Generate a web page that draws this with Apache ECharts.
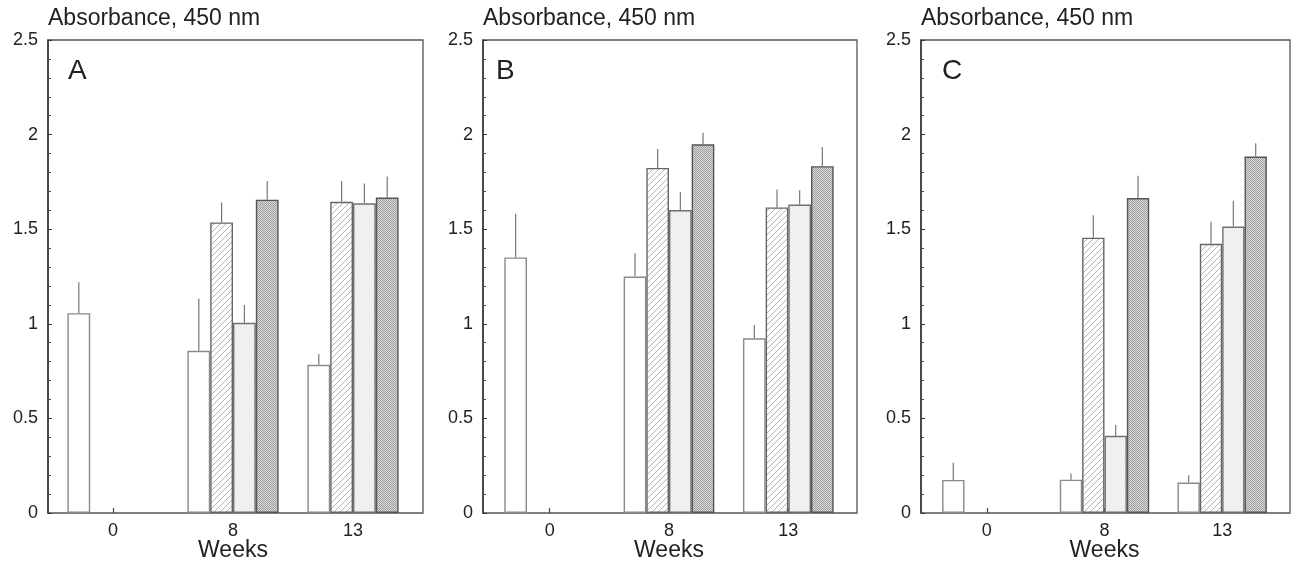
<!DOCTYPE html>
<html>
<head>
<meta charset="utf-8">
<script src="https://cdn.jsdelivr.net/npm/echarts@6/dist/echarts.min.js"></script>
<style>html,body{margin:0;padding:0;background:#fff}#c{width:1299px;height:563px}</style>
</head>
<body>
<div id="c"></div>
<script>
// ---- data ----
const weeks = ['0', '8', '13'];
const panelLetters = ['A', 'B', 'C'];
const yTitle = 'Absorbance, 450 nm';
const xTitle = 'Weeks';

// Panel A
const A_white   = [1.056, 0.857, 0.783];
const A_hatched = [null, 1.536, 1.645];
const A_light   = [null, 1.005, 1.637];
const A_dark    = [null, 1.656, 1.667];
const A_whiteErr   = [1.22, 1.134, 0.84];
const A_hatchedErr = [null, 1.641, 1.755];
const A_lightErr   = [null, 1.10, 1.741];
const A_darkErr    = [null, 1.755, 1.779];

// Panel B
const B_white   = [1.351, 1.25, 0.923];
const B_hatched = [null, 1.824, 1.615];
const B_light   = [null, 1.601, 1.63];
const B_dark    = [null, 1.949, 1.833];
const B_whiteErr   = [1.582, 1.373, 0.994];
const B_hatchedErr = [null, 1.924, 1.71];
const B_lightErr   = [null, 1.696, 1.706];
const B_darkErr    = [null, 2.01, 1.934];

// Panel C
const C_white   = [0.175, 0.176, 0.161];
const C_hatched = [null, 1.455, 1.423];
const C_light   = [null, 0.408, 1.514];
const C_dark    = [null, 1.665, 1.884];
const C_whiteErr   = [0.266, 0.209, 0.199];
const C_hatchedErr = [null, 1.574, 1.54];
const C_lightErr   = [null, 0.465, 1.65];
const C_darkErr    = [null, 1.783, 1.954];

const yMin = 0, yMax = 2.5, yInterval = 0.5;

const panelData = [
  { vals: [A_white, A_hatched, A_light, A_dark], errs: [A_whiteErr, A_hatchedErr, A_lightErr, A_darkErr] },
  { vals: [B_white, B_hatched, B_light, B_dark], errs: [B_whiteErr, B_hatchedErr, B_lightErr, B_darkErr] },
  { vals: [C_white, C_hatched, C_light, C_dark], errs: [C_whiteErr, C_hatchedErr, C_lightErr, C_darkErr] }
];

// ---- layout (positions / styles) ----
const layout = [
  { frameLeft: 48,  frameWidth: 375, barLeft: 53,  barWidth: 360, letterLeft: 68 },
  { frameLeft: 483, frameWidth: 374, barLeft: 490, barWidth: 358, letterLeft: 496 },
  { frameLeft: 921, frameWidth: 369, barLeft: 928, barWidth: 353, letterLeft: 942 }
];
const TOP = 40, HEIGHT = 473;
const BAR_FRAC = 0.19;
const FONT = '"Liberation Sans", Arial, Helvetica, sans-serif';

function makePattern(kind) {
  const c = document.createElement('canvas');
  const g = c.getContext('2d');
  if (kind === 'hatch') {
    const s = 6;
    c.width = c.height = s;
    g.fillStyle = '#ffffff'; g.fillRect(0, 0, s, s);
    g.strokeStyle = '#b4b4b4'; g.lineWidth = 1;
    g.beginPath();
    g.moveTo(0, s); g.lineTo(s, 0);
    g.moveTo(-1, 1); g.lineTo(1, -1);
    g.moveTo(s - 1, s + 1); g.lineTo(s + 1, s - 1);
    g.stroke();
  } else if (kind === 'light') {
    c.width = c.height = 3;
    g.fillStyle = '#f5f5f5'; g.fillRect(0, 0, 3, 3);
    g.fillStyle = '#e4e4e4'; g.fillRect(0, 0, 1, 1); g.fillRect(2, 1, 1, 1); g.fillRect(1, 2, 1, 1);
  } else {
    c.width = c.height = 2;
    g.fillStyle = '#d8d8d8'; g.fillRect(0, 0, 2, 2);
    g.fillStyle = '#a0a0a0'; g.fillRect(0, 0, 1, 1); g.fillRect(1, 1, 1, 1);
  }
  return c;
}
const fills = [
  '#ffffff',
  { image: makePattern('hatch'), repeat: 'repeat' },
  { image: makePattern('light'), repeat: 'repeat' },
  { image: makePattern('dark'), repeat: 'repeat' }
];
const borders = ['#8a8a8a', '#666666', '#707070', '#555555'];

const grid = [], xAxis = [], yAxis = [], series = [], title = [];

layout.forEach((L, p) => {
  const fi = p * 2, bi = p * 2 + 1;
  grid.push({ left: L.frameLeft, top: TOP, width: L.frameWidth, height: HEIGHT, outerBoundsMode: 'none', containLabel: false,
    show: true, borderColor: '#555', borderWidth: 1.3, backgroundColor: 'transparent' });
  grid.push({ left: L.barLeft, top: TOP, width: L.barWidth, height: HEIGHT, outerBoundsMode: 'none', containLabel: false });

  xAxis.push({ type: 'value', gridIndex: fi, show: false, min: 0, max: 1 });
  xAxis.push({ type: 'category', gridIndex: bi, data: weeks,
    axisLine: { show: false },
    axisTick: { show: true, inside: true, alignWithLabel: true, length: 5, lineStyle: { color: '#444', width: 1.2 } },
    axisLabel: { margin: 9, fontSize: 18, color: '#222', fontFamily: FONT },
    name: xTitle, nameLocation: 'middle', nameGap: 26, nameMoveOverlap: false,
    nameTextStyle: { fontSize: 23, color: '#222', fontFamily: FONT, verticalAlign: 'top' }
  });

  yAxis.push({ type: 'value', gridIndex: fi, min: yMin, max: yMax, interval: yInterval,
    axisLine: { show: true, lineStyle: { color: '#333', width: 1.5 } },
    axisTick: { show: true, inside: true, length: 4, lineStyle: { color: '#333' } },
    minorTick: { show: true, splitNumber: 5, length: 3, lineStyle: { color: '#444' } },
    splitLine: { show: false },
    axisLabel: { margin: 10, fontSize: 18, color: '#222', fontFamily: FONT },
    name: yTitle, nameLocation: 'end', nameGap: 10,
    nameTextStyle: { fontSize: 23, color: '#222', fontFamily: FONT, align: 'left', verticalAlign: 'bottom' }
  });
  yAxis.push({ type: 'value', gridIndex: bi, min: yMin, max: yMax, show: false });

  const D = panelData[p];
  D.vals.forEach((arr, s) => {
    series.push({ type: 'bar', xAxisIndex: bi, yAxisIndex: bi, data: arr,
      barWidth: (BAR_FRAC * 100) + '%', barGap: '0%', silent: true, z: 2,
      itemStyle: { color: fills[s], borderColor: borders[s], borderWidth: 1.4 } });
  });

  const errData = [];
  D.vals.forEach((arr, s) => {
    arr.forEach((v, ci) => {
      const e = D.errs[s][ci];
      if (v != null && e != null) errData.push([ci, s, v, e]);
    });
  });
  series.push({ type: 'custom', xAxisIndex: bi, yAxisIndex: bi, data: errData, silent: true, z: 3,
    encode: { x: 0, y: 3 },
    renderItem: function (params, api) {
      const ci = api.value(0), s = api.value(1);
      const base = api.coord([ci, api.value(2)]);
      const top = api.coord([ci, api.value(3)]);
      const band = api.size([1, 0])[0];
      const bw = band * BAR_FRAC;
      const x = base[0] + (s - 1.5) * bw;
      return { type: 'line', shape: { x1: x, y1: base[1], x2: x, y2: top[1] },
        style: { stroke: '#777', lineWidth: 1.2 } };
    }
  });

  title.push({ text: panelLetters[p], left: L.letterLeft, top: 57, padding: 0,
    textStyle: { fontSize: 28, fontWeight: 'normal', color: '#222', fontFamily: FONT } });
});

const chart = echarts.init(document.getElementById('c'), null, { renderer: 'canvas' });
chart.setOption({ animation: false, backgroundColor: '#fff', title, grid, xAxis, yAxis, series });
</script>
</body>
</html>
